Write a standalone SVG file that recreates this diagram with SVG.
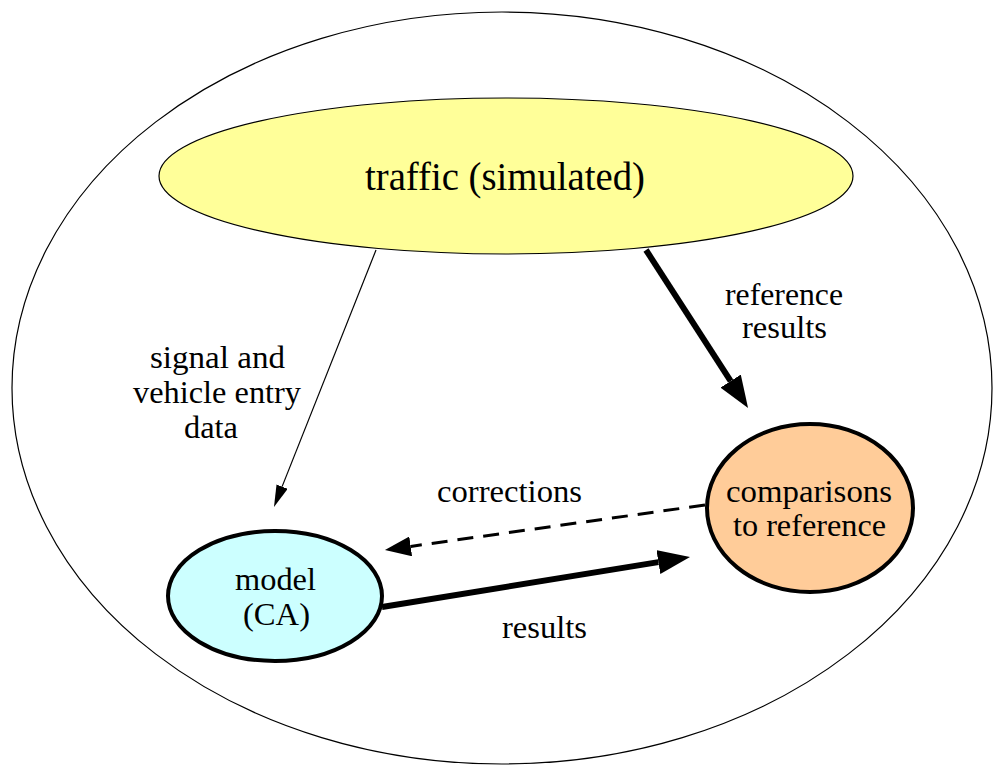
<svg xmlns="http://www.w3.org/2000/svg" width="993" height="765" viewBox="0 0 993 765">
  <style>
    .lbl { font-family: 'Liberation Serif', 'Times New Roman', serif; font-size: 32px; fill: #000; }
    .big { font-size: 39px; }
    .node { stroke: #000; stroke-width: 4; }
    .edge { fill: none; stroke: #000; }
  </style>
  <defs>
    <marker id="headThick" markerUnits="userSpaceOnUse" viewBox="0 -12 32 24" markerWidth="32" markerHeight="24" refX="0" refY="0" orient="auto">
      <path d="M0,-12 L32,0 L0,12 z" fill="#000"/>
    </marker>
    <marker id="headDash" markerUnits="userSpaceOnUse" viewBox="0 -10 26 20" markerWidth="26" markerHeight="20" refX="0" refY="0" orient="auto">
      <path d="M0,-10 L26,0 L0,10 z" fill="#000"/>
    </marker>
    <marker id="headThin" markerUnits="userSpaceOnUse" viewBox="0 -6 22 12" markerWidth="22" markerHeight="12" refX="0" refY="0" orient="auto">
      <path d="M0,-6 L22,0 L0,6 z" fill="#000"/>
    </marker>
  </defs>

  <rect width="993" height="765" fill="#fff"/>

  <!-- enclosing system boundary -->
  <g id="system">
    <ellipse cx="502" cy="388" rx="490" ry="376" fill="none" stroke="#000" stroke-width="1.2"/>
  </g>

  <g id="traffic">
    <ellipse cx="506" cy="176" rx="347" ry="78" fill="#ffff99" stroke="#000" stroke-width="1.2"/>
    <text class="lbl big" x="365" y="190" textLength="280" lengthAdjust="spacingAndGlyphs">traffic (simulated)</text>
  </g>

  <g id="model">
    <ellipse class="node" cx="275" cy="596" rx="107" ry="65" fill="#ccffff"/>
    <text class="lbl" x="235" y="590" textLength="81" lengthAdjust="spacingAndGlyphs">model</text>
    <text class="lbl" x="243" y="625" textLength="67" lengthAdjust="spacingAndGlyphs">(CA)</text>
  </g>

  <g id="comparisons">
    <ellipse class="node" cx="810" cy="508" rx="103" ry="84" fill="#ffcc99"/>
    <text class="lbl" x="726" y="502" textLength="166" lengthAdjust="spacingAndGlyphs">comparisons</text>
    <text class="lbl" x="733" y="536" textLength="153" lengthAdjust="spacingAndGlyphs">to reference</text>
  </g>

  <g id="connectors">
    <!-- traffic -> model -->
    <line class="edge" x1="376" y1="250" x2="282.1" y2="486.6" stroke-width="1.2" marker-end="url(#headThin)"/>
    <!-- traffic -> comparisons -->
    <line class="edge" x1="646" y1="250" x2="730.7" y2="381.1" stroke-width="6" marker-end="url(#headThick)"/>
    <!-- model -> comparisons -->
    <line class="edge" x1="382" y1="607" x2="658.4" y2="562.1" stroke-width="6" marker-end="url(#headThick)"/>
    <!-- comparisons -> model -->
    <line class="edge" x1="705" y1="505" x2="410.7" y2="546.4" stroke-width="3" stroke-dasharray="16 10" marker-end="url(#headDash)"/>

    <text class="lbl" x="150" y="368" textLength="135" lengthAdjust="spacingAndGlyphs">signal and</text>
    <text class="lbl" x="133" y="403" textLength="168" lengthAdjust="spacingAndGlyphs">vehicle entry</text>
    <text class="lbl" x="184" y="438" textLength="54" lengthAdjust="spacingAndGlyphs">data</text>
    <text class="lbl" x="725" y="305" textLength="118" lengthAdjust="spacingAndGlyphs">reference</text>
    <text class="lbl" x="742" y="338" textLength="85" lengthAdjust="spacingAndGlyphs">results</text>
    <text class="lbl" x="437" y="502" textLength="145" lengthAdjust="spacingAndGlyphs">corrections</text>
    <text class="lbl" x="502" y="638" textLength="85" lengthAdjust="spacingAndGlyphs">results</text>
  </g>
</svg>
